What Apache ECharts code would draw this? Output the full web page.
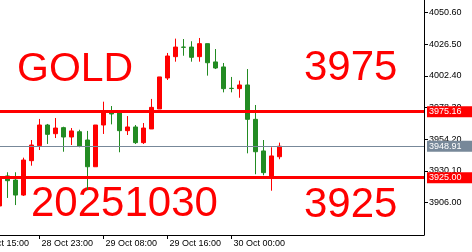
<!DOCTYPE html>
<html><head><meta charset="utf-8">
<script src="https://cdn.jsdelivr.net/npm/echarts@6/dist/echarts.min.js"></script>
<style>html,body{margin:0;padding:0;background:#fff}#c{width:472px;height:252px}</style>
</head><body><div id="c"></div>
<script>
// hourly XAUUSD candles (index 0 = 28 Oct 18:00)
const opens  = [3903.5,3926.3,3923.2,3911.8,3937.9,3949.3,3965.0,3958.4,3963.0,3955.9,3959.9,3953.6,3933.3,3965.0,3974.7,3974.7,3960.7,3963.5,3951.6,3962.0,3977.2,4000.7,4016.9,4024.2,4024.2,4016.9,4026.8,4012.9,4009.1,3992.9,3992.6,3995.4,3969.3,3945.3,3926.3,3940.9];
const closes = [3924.8,3922.7,3911.8,3938.4,3949.8,3965.0,3957.9,3962.7,3955.9,3960.5,3949.1,3933.3,3965.0,3974.7,3973.4,3960.7,3963.5,3951.6,3962.7,3978.4,4001.5,4017.4,4024.2,4024.0,4016.4,4026.8,4012.3,4008.3,3992.6,3992.7,3995.4,3969.3,3944.7,3928.8,3941.5,3948.91];
const lows   = [3902.0,3909.6,3904.2,3911.1,3934.1,3946.0,3950.6,3955.1,3944.7,3949.8,3948.1,3915.6,3933.3,3958.2,3965.5,3944.3,3957.4,3950.6,3950.6,3962.0,3977.2,3999.2,4013.1,4017.6,4013.1,4013.1,4002.5,4007.5,3989.8,3989.8,3985.7,3943.5,3927.6,3926.8,3915.1,3939.0];
const highs  = [3926.3,3929.1,3929.1,3940.2,3953.6,3969.6,3965.8,3970.3,3963.7,3962.7,3961.4,3960.5,3965.0,3982.7,3979.4,3974.7,3971.8,3965.0,3966.5,3984.8,4001.5,4019.7,4030.6,4030.3,4028.6,4031.1,4026.8,4022.7,4012.1,4001.5,3998.7,4007.5,3980.2,3953.6,3948.1,3951.6];
const xTickIdx = [-3, 5, 13, 21, 29];
const xTickLabels = ['28 Oct 15:00','28 Oct 23:00','29 Oct 08:00','29 Oct 16:00','30 Oct 00:00'];
const yTicks = [3906.00, 3930.10, 3954.20, 3978.30, 4002.40, 4026.50, 4050.60];
const levels = [3975.16, 3925.00];
const lastPrice = 3948.91;
const titleWord = 'GOLD';
const dateWord = '20251030';
const levelWords = ['3975', '3925'];

const FONT = 'Liberation Sans';
const RED = '#ff0000', GREEN = '#228b22', GREY = '#778899';
const candleData = opens.map((o, i) => [i, o, closes[i], lows[i], highs[i]]);

const tag = (bg) => ({
  show: true, position: 'end', distance: 3, color: '#fff', backgroundColor: bg,
  fontFamily: FONT, fontSize: 9, lineHeight: 9, padding: [1, 12, 1, 2],
  formatter: p => Number(p.value).toFixed(2)
});

const chart = echarts.init(document.getElementById('c'), null, {renderer: 'canvas'});
chart.setOption({
  animation: false,
  backgroundColor: '#fff',
  grid: {left: -32, right: 48, top: 0, bottom: 17, outerBoundsMode: 'none', containLabel: false},
  xAxis: {
    type: 'value', min: -3.9375, max: 53.0625,
    splitLine: {show: false},
    axisLine: {onZero: false, lineStyle: {color: '#000', width: 1}},
    axisTick: {show: true, length: 4, customValues: xTickIdx, lineStyle: {color: '#000'}},
    axisLabel: {
      customValues: xTickIdx, align: 'left', margin: 4, padding: [0, 0, 0, 2],
      color: '#000', fontFamily: FONT, fontSize: 9,
      formatter: v => xTickLabels[xTickIdx.indexOf(Math.round(v))] || ''
    }
  },
  yAxis: {
    type: 'value', position: 'right', min: 3881.46, max: 4059.94, scale: true,
    splitLine: {show: false},
    axisLine: {show: true, onZero: false, lineStyle: {color: '#000', width: 1}},
    axisTick: {show: true, length: 4, customValues: yTicks, lineStyle: {color: '#000'}},
    axisLabel: {
      customValues: yTicks, margin: 5, color: '#000', fontFamily: FONT, fontSize: 9,
      formatter: v => Number(v).toFixed(2)
    }
  },
  graphic: [
    {type: 'text', x: 17, y: 70, z: 1, style: {text: titleWord, fill: RED, fontFamily: FONT, fontSize: 41, verticalAlign: 'middle', align: 'left'}},
    {type: 'text', x: 304, y: 68, z: 1, style: {text: levelWords[0], fill: RED, fontFamily: FONT, fontSize: 42, verticalAlign: 'middle', align: 'left'}},
    {type: 'text', x: 31, y: 204, z: 1, style: {text: dateWord, fill: RED, fontFamily: FONT, fontSize: 42, verticalAlign: 'middle', align: 'left'}},
    {type: 'text', x: 304, y: 205, z: 1, style: {text: levelWords[1], fill: RED, fontFamily: FONT, fontSize: 42, verticalAlign: 'middle', align: 'left'}}
  ],
  series: [{
    type: 'candlestick',
    data: candleData,
    barWidth: 4,
    itemStyle: {color: RED, color0: GREEN, borderColor: RED, borderColor0: GREEN, borderWidth: 1},
    markLine: {
      silent: true, symbol: ['none', 'none'], animation: false,
      data: [
        {yAxis: levels[0], lineStyle: {color: RED, width: 3, type: 'solid'}, label: tag(RED)},
        {yAxis: levels[1], lineStyle: {color: RED, width: 3, type: 'solid'}, label: tag(RED)},
        {yAxis: lastPrice, lineStyle: {color: GREY, width: 1, type: 'solid'}, label: tag(GREY)}
      ]
    }
  }]
});
</script>
</body></html>
